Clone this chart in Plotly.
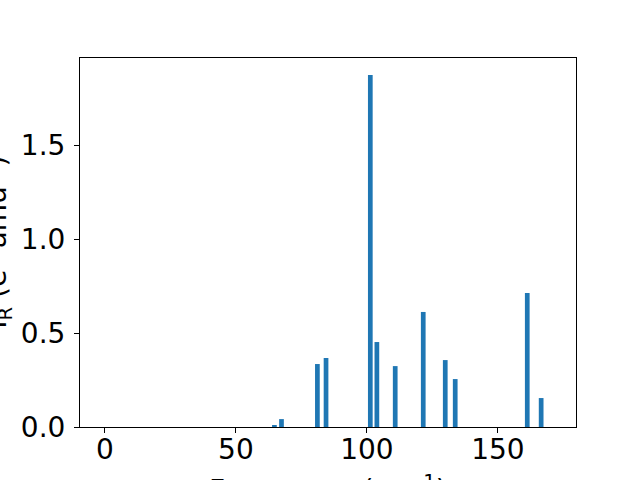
import plotly.graph_objects as go

frequencies = [64.7, 67.4, 81.1, 84.4, 101.3, 103.8, 110.8, 121.5, 129.9, 133.7, 161.2, 166.5]
intensities = [0.010, 0.042, 0.335, 0.367, 1.872, 0.452, 0.324, 0.612, 0.356, 0.255, 0.713, 0.154]
x_ticks = [0, 50, 100, 150]
y_ticks = [0.0, 0.5, 1.0, 1.5]

font_family = "DejaVu Sans"

fig = go.Figure()
fig.add_trace(go.Bar(x=frequencies, y=intensities, width=1.8,
                     marker=dict(color="#1f77b4", line=dict(width=0))))

axis_common = dict(showline=True, linecolor="black", linewidth=1, mirror=True,
                   ticks="outside", ticklen=5, tickwidth=1, tickcolor="black",
                   showgrid=False, zeroline=False, automargin=False,
                   tickfont=dict(family=font_family, size=28, color="black"))

fig.update_layout(
    width=640, height=480,
    margin=dict(l=80, r=64, t=58, b=53, autoexpand=False),
    paper_bgcolor="white", plot_bgcolor="white",
    showlegend=False,
    xaxis=dict(range=[-9.5, 179.8], tickvals=x_ticks, ticklabelstandoff=-8, **axis_common),
    yaxis=dict(range=[0, 1.963], tickvals=y_ticks, tickformat=".1f", ticklabelstandoff=3, **axis_common),
    annotations=[
        dict(text="I<sub>R</sub> (e<sup>2</sup> amu<sup>-1</sup>)", xref="paper", yref="paper",
             x=-0.167, y=0.5, xanchor="center", yanchor="middle", textangle=-90,
             showarrow=False, font=dict(family=font_family, size=28, color="black")),
        dict(text="Frequency (cm<sup>-1</sup>)", xref="paper", yref="paper",
             x=0.5, y=-0.111, xanchor="center", yanchor="top",
             showarrow=False, font=dict(family=font_family, size=28, color="black")),
    ],
)

fig.write_html("out.html", config={"displayModeBar": False},
               post_script="document.body.style.margin='0';document.body.style.padding='0';")
